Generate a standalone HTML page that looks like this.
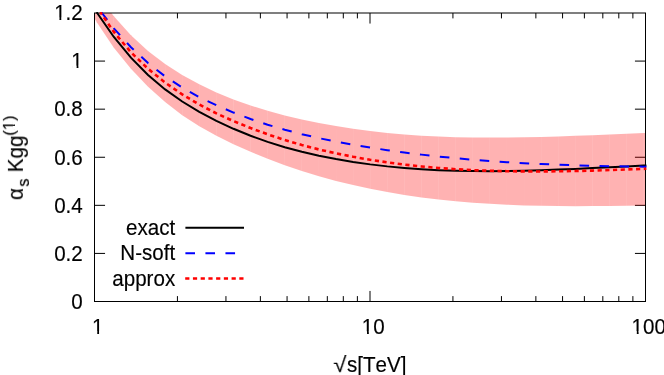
<!DOCTYPE html>
<html><head><meta charset="utf-8"><title>plot</title>
<style>
html,body{margin:0;padding:0;background:#fff;}
body{width:664px;height:375px;overflow:hidden;}
svg{display:block;}
text{will-change:transform;filter:grayscale(1);font-kerning:none;font-family:"Liberation Sans",sans-serif;font-size:20.6px;fill:#000;stroke:#000;stroke-width:0.16px;}
</style></head><body>
<svg width="664" height="375" viewBox="0 0 664 375">
<defs><clipPath id="c2"><rect x="93.5" y="12.0" width="553.1" height="290.5"/></clipPath><clipPath id="c"><rect x="94.5" y="13.0" width="551.0" height="288.5"/></clipPath></defs>
<rect width="664" height="375" fill="#fff"/>
<g stroke="#000" stroke-width="1" fill="none">
<path d="M177.43,301.5 v-5.4 M177.43,13.0 v5.4"/>
<path d="M225.95,301.5 v-5.4 M225.95,13.0 v5.4"/>
<path d="M260.37,301.5 v-5.4 M260.37,13.0 v5.4"/>
<path d="M287.07,301.5 v-5.4 M287.07,13.0 v5.4"/>
<path d="M308.88,301.5 v-5.4 M308.88,13.0 v5.4"/>
<path d="M327.32,301.5 v-5.4 M327.32,13.0 v5.4"/>
<path d="M343.30,301.5 v-5.4 M343.30,13.0 v5.4"/>
<path d="M357.39,301.5 v-5.4 M357.39,13.0 v5.4"/>
<path d="M370.00,301.5 v-10.55 M370.00,13.0 v10.55"/>
<path d="M452.93,301.5 v-5.4 M452.93,13.0 v5.4"/>
<path d="M501.45,301.5 v-5.4 M501.45,13.0 v5.4"/>
<path d="M535.87,301.5 v-5.4 M535.87,13.0 v5.4"/>
<path d="M562.57,301.5 v-5.4 M562.57,13.0 v5.4"/>
<path d="M584.38,301.5 v-5.4 M584.38,13.0 v5.4"/>
<path d="M602.82,301.5 v-5.4 M602.82,13.0 v5.4"/>
<path d="M618.80,301.5 v-5.4 M618.80,13.0 v5.4"/>
<path d="M632.89,301.5 v-5.4 M632.89,13.0 v5.4"/>
<path d="M94.5,253.42 h10.55 M645.5,253.42 h-10.55"/>
<path d="M94.5,205.33 h10.55 M645.5,205.33 h-10.55"/>
<path d="M94.5,157.25 h10.55 M645.5,157.25 h-10.55"/>
<path d="M94.5,109.17 h10.55 M645.5,109.17 h-10.55"/>
<path d="M94.5,61.08 h10.55 M645.5,61.08 h-10.55"/>
</g>
<g clip-path="url(#c)">
<g fill="#ff0000" fill-opacity="0.3" stroke="none">
<path d="M79.665,-31.66 L96.755,-6.43 L96.755,22.22 L79.665,-6.31Z"/>
<path d="M96.755,-6.43 L113.845,16.23 L113.845,47.63 L96.755,22.22Z"/>
<path d="M113.845,16.23 L130.936,35.19 L130.936,68.83 L113.845,47.63Z"/>
<path d="M130.936,35.19 L148.026,50.98 L148.026,86.77 L130.936,68.83Z"/>
<path d="M148.026,50.98 L165.117,64.08 L165.117,102.10 L148.026,86.77Z"/>
<path d="M165.117,64.08 L182.207,75.02 L182.207,115.15 L165.117,102.10Z"/>
<path d="M182.207,75.02 L199.298,84.30 L199.298,126.28 L182.207,115.15Z"/>
<path d="M199.298,84.30 L216.388,92.38 L216.388,135.86 L199.298,126.28Z"/>
<path d="M216.388,92.38 L233.479,99.40 L233.479,144.26 L216.388,135.86Z"/>
<path d="M233.479,99.40 L250.569,105.50 L250.569,151.86 L233.479,144.26Z"/>
<path d="M250.569,105.50 L267.660,110.79 L267.660,158.82 L250.569,151.86Z"/>
<path d="M267.660,110.79 L284.750,115.40 L284.750,165.19 L267.660,158.82Z"/>
<path d="M284.750,115.40 L301.841,119.45 L301.841,170.97 L284.750,165.19Z"/>
<path d="M301.841,119.45 L318.931,123.02 L318.931,176.20 L301.841,170.97Z"/>
<path d="M318.931,123.02 L336.022,126.12 L336.022,180.90 L318.931,176.20Z"/>
<path d="M336.022,126.12 L353.112,128.79 L353.112,185.10 L336.022,180.90Z"/>
<path d="M353.112,128.79 L370.203,131.05 L370.203,188.83 L353.112,185.10Z"/>
<path d="M370.203,131.05 L387.293,132.92 L387.293,192.11 L370.203,188.83Z"/>
<path d="M387.293,132.92 L404.384,134.45 L404.384,194.97 L387.293,192.11Z"/>
<path d="M404.384,134.45 L421.474,135.64 L421.474,197.43 L404.384,194.97Z"/>
<path d="M421.474,135.64 L438.565,136.52 L438.565,199.52 L421.474,197.43Z"/>
<path d="M438.565,136.52 L455.655,137.13 L455.655,201.27 L438.565,199.52Z"/>
<path d="M455.655,137.13 L472.746,137.49 L472.746,202.71 L455.655,201.27Z"/>
<path d="M472.746,137.49 L489.836,137.62 L489.836,203.85 L472.746,202.71Z"/>
<path d="M489.836,137.62 L506.927,137.56 L506.927,204.73 L489.836,203.85Z"/>
<path d="M506.927,137.56 L524.017,137.32 L524.017,205.38 L506.927,204.73Z"/>
<path d="M524.017,137.32 L541.108,136.94 L541.108,205.81 L524.017,205.38Z"/>
<path d="M541.108,136.94 L558.198,136.43 L558.198,206.06 L541.108,205.81Z"/>
<path d="M558.198,136.43 L575.289,135.84 L575.289,206.15 L558.198,206.06Z"/>
<path d="M575.289,135.84 L592.380,135.17 L592.380,206.10 L575.289,206.15Z"/>
<path d="M592.380,135.17 L609.470,134.47 L609.470,205.96 L592.380,206.10Z"/>
<path d="M609.470,134.47 L626.560,133.75 L626.560,205.73 L609.470,205.96Z"/>
<path d="M626.560,133.75 L643.651,133.05 L643.651,205.45 L626.560,205.73Z"/>
<path d="M643.651,133.05 L660.741,132.36 L660.741,205.15 L643.651,205.45Z"/>
</g>
</g>
<rect x="94.5" y="13.0" width="551.0" height="288.5" fill="none" stroke="#000" stroke-width="1"/>
<g clip-path="url(#c2)" fill="none">
<path d="M96.62,12.18 L97.19,13.00 L113.85,36.99 L130.94,57.68 L148.03,74.99 L165.12,89.42 L182.21,101.52 L199.30,111.81 L216.39,120.82 L233.48,128.79 L250.57,135.80 L267.66,141.91 L284.75,147.22 L301.84,151.80 L318.93,155.72 L336.02,159.08 L353.11,161.96 L370.20,164.38 L387.29,166.38 L404.38,167.99 L421.47,169.24 L438.56,170.16 L455.66,170.77 L472.75,171.10 L489.84,171.19 L506.93,171.05 L524.02,170.73 L541.11,170.24 L558.20,169.62 L575.29,168.90 L592.38,168.10 L609.47,167.25 L626.56,166.38 L643.65,165.53 L645.50,165.44 L646.70,165.38" stroke="#000" stroke-width="2"/>
<path d="M101.39,12.21 L102.00,13.00 L113.85,28.38 L130.94,47.19 L148.03,63.07 L165.12,76.40 L182.21,87.61 L199.30,97.10 L216.39,105.29 L233.48,112.56 L250.57,119.00 L267.66,124.71 L284.75,129.75 L301.84,134.20 L318.93,138.14 L336.02,141.63 L353.11,144.75 L370.20,147.59 L387.29,150.17 L404.38,152.51 L421.47,154.63 L438.56,156.53 L455.66,158.22 L472.75,159.72 L489.84,161.04 L506.93,162.19 L524.02,163.18 L541.11,164.02 L558.20,164.72 L575.29,165.31 L592.38,165.78 L609.47,166.14 L626.56,166.42 L643.65,166.63 L645.50,166.64 L646.70,166.65" stroke="#0000ff" stroke-width="2" stroke-dasharray="9.6 10.4" stroke-dashoffset="0.0"/>
<path d="M100.34,12.17 L100.91,13.00 L113.85,31.95 L130.94,52.25 L148.03,68.78 L165.12,82.54 L182.21,94.37 L199.30,104.55 L216.39,113.38 L233.48,121.11 L250.57,128.03 L267.66,134.32 L284.75,139.98 L301.84,145.03 L318.93,149.47 L336.02,153.36 L353.11,156.79 L370.20,159.79 L387.29,162.39 L404.38,164.60 L421.47,166.46 L438.56,167.98 L455.66,169.20 L472.75,170.12 L489.84,170.79 L506.93,171.21 L524.02,171.42 L541.11,171.44 L558.20,171.29 L575.29,171.00 L592.38,170.58 L609.47,170.07 L626.56,169.49 L643.65,168.86 L645.50,168.79 L646.70,168.74" stroke="#ff0000" stroke-width="2.6" stroke-dasharray="4.2 3.5" stroke-dashoffset="1.4"/>
</g>
<g>
<text transform="scale(1,1.045)" x="82.8" y="295.50" text-anchor="end">0</text>
<text transform="scale(1,1.045)" x="82.8" y="249.49" text-anchor="end">0.2</text>
<text transform="scale(1,1.045)" x="82.8" y="203.48" text-anchor="end">0.4</text>
<text transform="scale(1,1.045)" x="82.8" y="157.46" text-anchor="end">0.6</text>
<text transform="scale(1,1.045)" x="82.8" y="111.45" text-anchor="end">0.8</text>
<text transform="scale(1,1.045)" x="82.8" y="65.44" text-anchor="end">1</text>
<text transform="scale(1,1.045)" x="82.8" y="19.43" text-anchor="end">1.2</text>
<text transform="scale(1,1.045)" x="97.70" y="319.52" text-anchor="middle">1</text>
<text transform="scale(1,1.045)" x="373.20" y="319.52" text-anchor="middle">10</text>
<text transform="scale(1,1.045)" x="648.70" y="319.52" text-anchor="middle">100</text>
</g>
<g>
<text transform="scale(1,1.045)" x="175.2" y="224.69" text-anchor="end">exact</text>
<text transform="scale(1,1.045)" x="175.2" y="249.09" text-anchor="end">N-soft</text>
<text transform="scale(1,1.045)" x="175.2" y="273.49" text-anchor="end">approx</text>
<path d="M185.4,227.77 H244" stroke="#000" stroke-width="2" fill="none"/>
<path d="M185.4,253.3 H244" stroke="#0000ff" stroke-width="2" stroke-dasharray="9.6 10.43" fill="none"/>
<path d="M185.2,278.5 H244" stroke="#ff0000" stroke-width="2.7" stroke-dasharray="4.2 3.53" fill="none"/>
</g>
<text transform="translate(22.9,157.25) rotate(-90) scale(1,1.045)"><tspan x="-42.8">α</tspan><tspan x="-29.4" font-size="16.48" dy="5.3">s</tspan><tspan x="-20.76" dy="-5.3"> Kgg</tspan><tspan font-size="16.48" dy="-7.4">(1)</tspan></text>
<text transform="translate(333.3,371.9) scale(1.15,1.045)">√</text><text transform="scale(1,1.045)" x="347" y="355.89">s[TeV]</text>
<g fill="#fff" stroke="none">
<g transform="scale(1,1.045)"><rect x="72.11" y="62.90" width="4.50" height="3.34"/><rect x="78.43" y="62.90" width="4.16" height="3.34"/></g>
<g transform="scale(1,1.045)"><rect x="54.95" y="16.89" width="4.50" height="3.34"/><rect x="61.28" y="16.89" width="4.16" height="3.34"/></g>
<g transform="scale(1,1.045)"><rect x="92.74" y="316.98" width="4.50" height="3.34"/><rect x="99.06" y="316.98" width="4.16" height="3.34"/></g>
<g transform="scale(1,1.045)"><rect x="362.52" y="316.98" width="4.50" height="3.34"/><rect x="368.84" y="316.98" width="4.16" height="3.34"/></g>
<g transform="scale(1,1.045)"><rect x="632.30" y="316.98" width="4.50" height="3.34"/><rect x="638.62" y="316.98" width="4.16" height="3.34"/></g>
<g transform="translate(22.9,157.25) rotate(-90) scale(1,1.045)"><rect x="27.50" y="-9.63" width="3.78" height="3.03"/><rect x="32.74" y="-9.63" width="3.48" height="3.03"/></g>
</g>
</svg>
</body></html>
